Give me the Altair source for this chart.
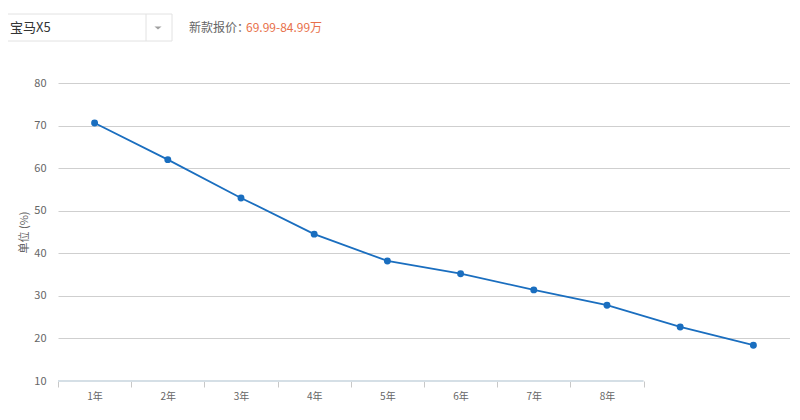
import json
import altair as alt
import pandas as pd

# ---- data ----
years = ["1年", "2年", "3年", "4年", "5年", "6年", "7年", "8年", "9年", "10年"]
year_index = [1, 2, 3, 4, 5, 6, 7, 8, 9, 10]
residual_pct = [70.6, 62.0, 53.0, 44.5, 38.2, 35.2, 31.4, 27.8, 22.7, 18.4]
labelled_years = years[:8]
x_boundaries = [0.5, 1.5, 2.5, 3.5, 4.5, 5.5, 6.5, 7.5, 8.5]
y_ticks = [10, 20, 30, 40, 50, 60, 70, 80]

model_name = "宝马X5"
price_label = "新款报价："
price_value = "69.99-84.99万"
y_title = "单位 (%)"

FONT = "Noto Sans CJK SC"
LINE_COLOR = "#1a6ebf"
W, H = 732, 298

df = pd.DataFrame({"idx": year_index, "year": years, "value": residual_pct})
axis_df = pd.DataFrame({"start": [x_boundaries[0]], "end": [x_boundaries[-1]], "y": [y_ticks[0]]})
one = pd.DataFrame({"k": [0]})

x_scale = alt.Scale(domain=[0.5, 10.5], nice=False, zero=False)
y_scale = alt.Scale(domain=[10, 80], nice=False, zero=False)

label_expr = json.dumps(labelled_years, ensure_ascii=False) + "[floor(datum.value)] || ''"

x_axis = alt.Axis(
    values=x_boundaries, labelExpr=label_expr, labelOffset=W / 20,
    labelFlush=False, labelOverlap=False, domain=False, grid=False,
    tickColor="#c8c8c8", tickSize=6, labelColor="#666", labelFont=FONT,
    labelFontSize=10, labelPadding=4, title=None,
)
y_axis = alt.Axis(
    values=y_ticks, domain=False, ticks=False, labelColor="#666", labelFont=FONT,
    labelFontSize=11, labelPadding=12,
    gridColor={"condition": {"test": "datum.value === 10", "value": "transparent"}, "value": "#cfcfcf"},
    gridWidth=1, title=y_title, titleFont=FONT, titleFontSize=11, titleFontWeight="normal",
    titleColor="#666", titlePadding=4,
)

base = alt.Chart(df).encode(
    x=alt.X("idx:Q", scale=x_scale, axis=x_axis),
    y=alt.Y("value:Q", scale=y_scale, axis=y_axis),
)
line = base.mark_line(color=LINE_COLOR, strokeWidth=1.8)
points = base.mark_circle(color=LINE_COLOR, size=48, opacity=1)

axis_line = alt.Chart(axis_df).mark_rule(color="#d5dfe6", strokeWidth=2).encode(
    x=alt.X("start:Q", scale=x_scale, axis=x_axis),
    x2="end:Q",
    y=alt.Y("y:Q", scale=y_scale, axis=y_axis),
)

# header widgets (drop-down box + price text)
box = alt.Chart(one).mark_rect(fill="white", stroke="#e2e2e2", strokeWidth=1).encode(
    x=alt.value(-55), x2=alt.value(114), y=alt.value(-69), y2=alt.value(-42)
)
divider = alt.Chart(one).mark_rule(color="#e2e2e2").encode(
    x=alt.value(88), y=alt.value(-69), y2=alt.value(-42)
)
arrow = alt.Chart(one).mark_point(
    shape="M-1,-0.45L1,-0.45L0,0.45Z", filled=True, color="#a0a0a0", size=50, opacity=1
).encode(x=alt.value(100), y=alt.value(-55))
model_text = alt.Chart(one).mark_text(
    text=model_name, font=FONT, fontSize=13, color="#333", align="left", baseline="middle"
).encode(x=alt.value(-48), y=alt.value(-55))
price_lbl = alt.Chart(one).mark_text(
    text=price_label, font=FONT, fontSize=12, color="#666", align="left", baseline="middle"
).encode(x=alt.value(131), y=alt.value(-55))
price_val = alt.Chart(one).mark_text(
    text=price_value, font=FONT, fontSize=12, color="#e8704a", align="left", baseline="middle"
).encode(x=alt.value(188), y=alt.value(-55))

chart = alt.layer(
    line, axis_line, points, box, divider, arrow, model_text, price_lbl, price_val
).properties(
    width=W, height=H, background="white",
    autosize=alt.AutoSizeParams(type="none"),
    padding={"left": 50, "top": 75, "right": 0, "bottom": 28},
).configure_view(stroke=None)

chart.save("out.html", embed_options={"renderer": "svg", "actions": False})
